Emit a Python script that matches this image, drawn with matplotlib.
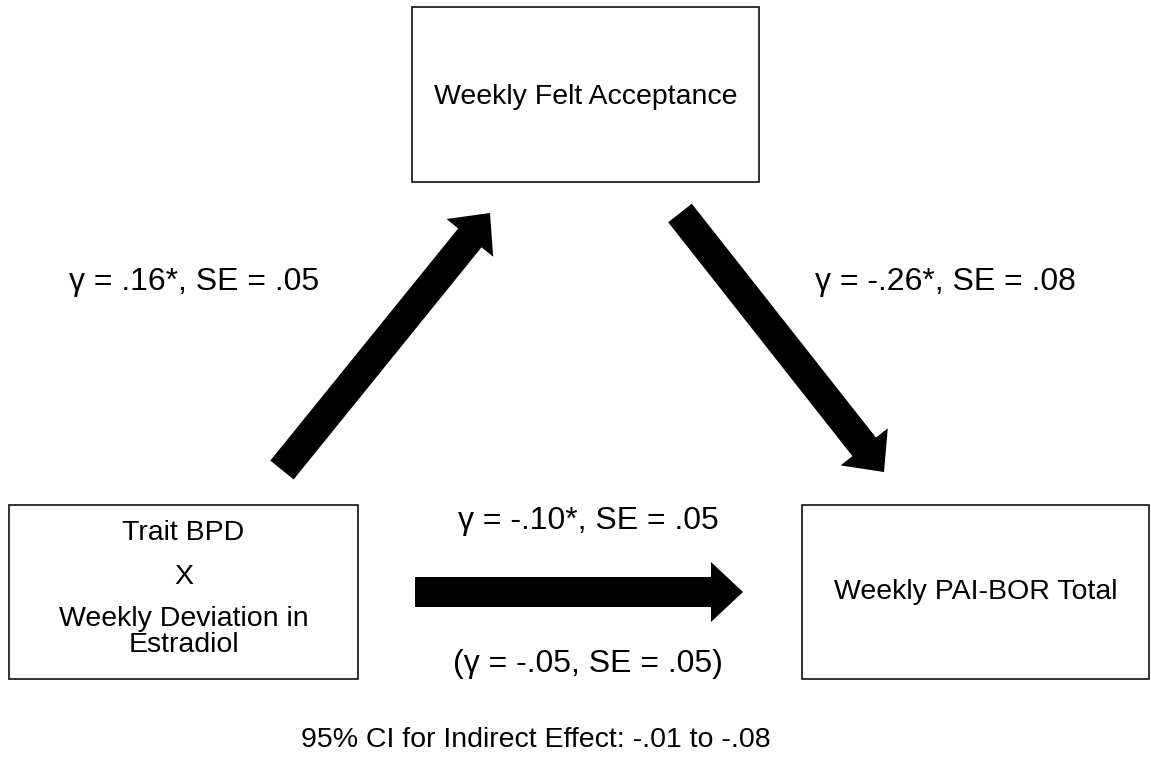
import matplotlib
matplotlib.use("Agg")
import matplotlib.pyplot as plt
from matplotlib.patches import Rectangle, FancyArrow

# ---- content ----
node_names = ["Trait BPD\nX\nWeekly Deviation in\nEstradiol",
              "Weekly Felt Acceptance",
              "Weekly PAI-BOR Total"]
path_a = "\u03b3 = .16*, SE = .05"
path_b = "\u03b3 = -.26*, SE = .08"
path_c = "\u03b3 = -.10*, SE = .05"
path_c_prime = "(\u03b3 = -.05, SE = .05)"
indirect_ci = "95% CI for Indirect Effect: -.01 to -.08"

plt.rcParams['font.family'] = ['Liberation Sans', 'DejaVu Sans']
FS = 20.5
FS_LAB = 23

W, H = 1151, 774
fig = plt.figure(figsize=(W / 100, H / 100), dpi=100)
ax = fig.add_axes([0, 0, 1, 1])
ax.set_xlim(0, W)
ax.set_ylim(H, 0)
ax.axis('off')

def box(x0, y0, x1, y1):
    ax.add_patch(Rectangle((x0, y0), x1 - x0, y1 - y0, fill=False,
                           edgecolor='#111111', linewidth=1.2))

# boxes
box(9, 505, 358, 679)
box(412, 7, 759, 182)
box(802, 505, 1149, 679)

# node texts
left_lines = node_names[0].split("\n")
for line, y in zip(left_lines, [533, 577, 619, 645]):
    ax.text(183.5, y, line, ha='center', va='center', fontsize=FS)
ax.text(585.5, 97, node_names[1], ha='center', va='center', fontsize=FS)
ax.text(975.5, 592, node_names[2], ha='center', va='center', fontsize=FS)

# arrows
def arrow(x0, y0, x1, y1):
    ax.add_patch(FancyArrow(x0, y0, x1 - x0, y1 - y0, width=30,
                            head_width=60, head_length=32,
                            length_includes_head=True, color='black', lw=0))

arrow(282, 470, 490, 213)
arrow(680, 213, 884, 472)
arrow(415, 592, 743, 592)

# path labels
ax.text(194, 282, path_a, ha='center', va='center', fontsize=FS_LAB)
ax.text(945, 282, path_b, ha='center', va='center', fontsize=FS_LAB)
ax.text(588, 521, path_c, ha='center', va='center', fontsize=FS_LAB)
ax.text(588, 664, path_c_prime, ha='center', va='center', fontsize=FS_LAB)
ax.text(536, 740, indirect_ci, ha='center', va='center', fontsize=FS)

fig.savefig("out.png", dpi=100, facecolor='white')
